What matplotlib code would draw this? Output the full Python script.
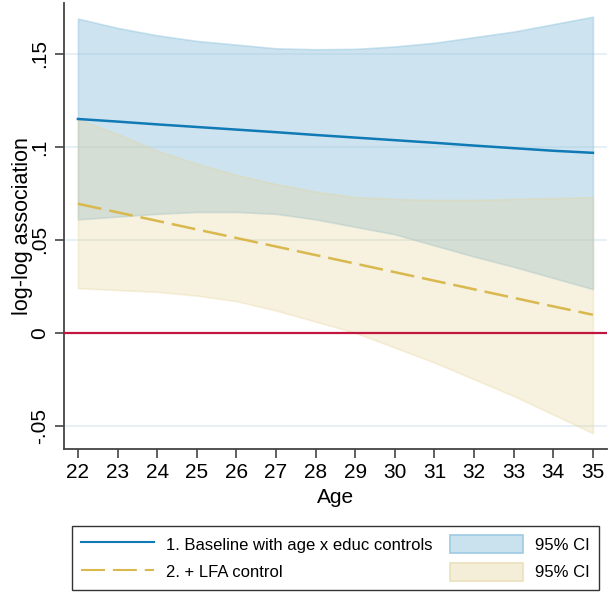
import numpy as np
import matplotlib.pyplot as plt
from matplotlib.patches import Patch
from matplotlib.lines import Line2D

plt.rcParams['font.family'] = ['Liberation Sans', 'DejaVu Sans']

age = np.arange(22, 36)

# 1. baseline with age x educ controls
base_est = [0.115, 0.1136, 0.1121, 0.1107, 0.1093, 0.1079, 0.1064,
            0.1050, 0.1036, 0.1022, 0.1007, 0.0993, 0.0979, 0.0968]
base_hi = [0.169, 0.164, 0.160, 0.157, 0.155, 0.153, 0.1525,
           0.1527, 0.154, 0.156, 0.159, 0.162, 0.166, 0.170]
base_lo = [0.061, 0.0625, 0.064, 0.065, 0.065, 0.064, 0.061,
           0.057, 0.053, 0.047, 0.041, 0.0355, 0.0295, 0.0235]

# 2. + LFA control
lfa_est = [0.0694, 0.0648, 0.0602, 0.0556, 0.0510, 0.0464, 0.0418,
           0.0372, 0.0326, 0.0280, 0.0234, 0.0188, 0.0142, 0.0097]
lfa_hi = [0.115, 0.107, 0.098, 0.091, 0.085, 0.080, 0.076,
          0.073, 0.072, 0.0715, 0.0715, 0.072, 0.0725, 0.073]
lfa_lo = [0.024, 0.023, 0.022, 0.020, 0.017, 0.012, 0.006,
          0.0, -0.008, -0.016, -0.025, -0.034, -0.044, -0.054]

yticks = [-0.05, 0, 0.05, 0.1, 0.15]
ytick_labels = ['-.05', '0', '.05', '.1', '.15']

blue = '#0f7ab5'
blue_ci = '#91c4de'
gold = '#d9b84e'
gold_ci = '#e6d296'

fig = plt.figure(figsize=(6.16, 5.96), dpi=100)
ax = fig.add_axes([0.104, 0.247, 0.881, 0.748])

for y in [-0.05, 0.05, 0.1, 0.15]:
    ax.axhline(y, color='#e3edf2', lw=1.2, zorder=0)

ax.fill_between(age, base_lo, base_hi, facecolor=blue_ci, alpha=0.45,
                edgecolor=blue_ci, lw=1.2, zorder=1)
ax.fill_between(age, lfa_lo, lfa_hi, facecolor=gold_ci, alpha=0.3,
                edgecolor=gold_ci, lw=1.2, zorder=2)
ax.plot(age, base_est, color=blue, lw=1.8, zorder=4)
ax.plot(age, lfa_est, color=gold, lw=1.8, dashes=(9.6, 3.2), zorder=4)
ax.axhline(0, color='#c0163f', lw=1.6, zorder=3)

ax.set_xlim(21.65, 35.35)
ax.set_ylim(-0.0624, 0.1774)
ax.set_xticks(age)
ax.set_yticks(yticks)
ax.set_yticklabels(ytick_labels, rotation=90, va='center')

for s in ['top', 'right']:
    ax.spines[s].set_visible(False)
for s in ['left', 'bottom']:
    ax.spines[s].set_color('#444444')
    ax.spines[s].set_linewidth(1.3)
ax.tick_params(direction='out', length=6.5, width=1.2, color='#444444',
               labelsize=15, pad=4)

ax.set_xlabel('Age', fontsize=15, labelpad=4)
ax.set_ylabel('log-log association', fontsize=15.5)
ax.yaxis.set_label_coords(-0.057, 0.5)

handles = [
    Line2D([], [], color=blue, lw=1.5),
    Line2D([], [], color=gold, lw=1.5, dashes=(11.5, 3.8)),
    Patch(facecolor='#c9e2ee', edgecolor='#9ccbe2', lw=1.2),
    Patch(facecolor='#f4eed9', edgecolor='#ebe0bb', lw=1.2),
]
labels = ['1. Baseline with age x educ controls', '2. + LFA control',
          '95% CI', '95% CI']
leg = fig.legend(handles, labels, ncol=2, loc='center',
                 bbox_to_anchor=(0.5446, 0.0638), fontsize=12,
                 frameon=True, fancybox=False, handlelength=4.37,
                 handleheight=1.26, columnspacing=1.08, labelspacing=0.6,
                 borderpad=0.55, handletextpad=0.72, borderaxespad=0)
leg.get_frame().set_edgecolor('black')
leg.get_frame().set_linewidth(1.0)

fig.savefig('out.png', dpi=100)
